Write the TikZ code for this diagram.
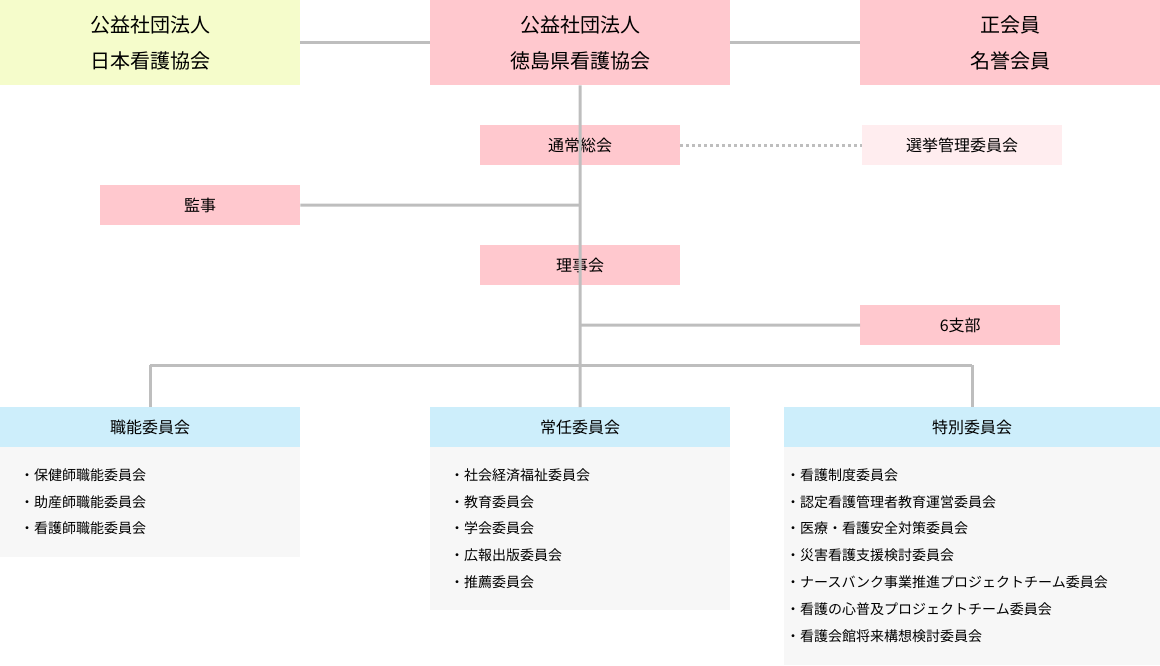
\documentclass[tikz,border=0pt]{standalone}
\usepackage{fontspec}
\setmainfont{Noto Sans CJK JP}
\begin{document}
\begin{tikzpicture}[x=1pt,y=-1pt,
  pinkc/.style={fill={rgb,255:red,255;green,200;blue,206}},
  bx/.style={draw=none,inner sep=0pt,anchor=north west},
  ln/.style={draw={rgb,255:red,190;green,190;blue,190},line width=3pt},
  it/.style={anchor=west,font=\fontsize{14}{16}\selectfont,inner sep=0pt}]
\useasboundingbox (0,0) rectangle (1160,665);
\tikzset{mk/.code args={#1/#2/#3/#4}{}}
% top boxes
\node[bx,fill={rgb,255:red,245;green,252;blue,203},minimum width=300pt,minimum height=85pt,align=center,font=\fontsize{20}{36}\selectfont] (jna) at (0,0) {公益社団法人\\日本看護協会};
\node[bx,pinkc,minimum width=300pt,minimum height=85pt,align=center,font=\fontsize{20}{36}\selectfont] (tna) at (430,0) {公益社団法人\\徳島県看護協会};
\node[bx,pinkc,minimum width=300pt,minimum height=85pt,align=center,font=\fontsize{20}{36}\selectfont] (mem) at (860,0) {正会員\\名誉会員};
\draw[ln] (jna.east) -- (tna.west);
\draw[ln] (tna.east) -- (mem.west);
% middle
\tikzset{mid/.style={bx,minimum width=200pt,minimum height=40pt,font=\fontsize{16}{18}\selectfont}}
\node[mid,pinkc] (soukai) at (480,125) {通常総会};
\node[mid,fill={rgb,255:red,255;green,237;blue,239}] (senkyo) at (862,125) {選挙管理委員会};
\node[mid,pinkc] (kanji) at (100,185) {監事};
\node[mid,pinkc] (rijikai) at (480,245) {理事会};
\node[mid,pinkc] (shibu) at (860,305) {6支部};
\coordinate (k) at (580,205);
\coordinate (s) at (580,325);
\coordinate (h) at (580,365);
\coordinate (hl) at (150,365);
\coordinate (hr) at (972,365);
\draw[ln] (tna.south) -- (h);
\draw[ln] (kanji.east) -- (k);
\draw[ln] (s) -- (shibu.west);
\draw[ln,dash pattern=on 3pt off 3pt,line width=3pt] (soukai.east) -- (senkyo.west);
% committees
\tikzset{hd/.style={bx,fill={rgb,255:red,205;green,238;blue,251},minimum height=40pt,font=\fontsize{16}{18}\selectfont},
  gb/.style={fill={rgb,255:red,247;green,247;blue,247}}}
\node[hd,minimum width=300pt] (c1) at (0,407) {職能委員会};
\node[hd,minimum width=300pt] (c2) at (430,407) {常任委員会};
\node[hd,minimum width=376pt] (c3) at (784,407) {特別委員会};
\draw[ln] (hl) -- (hr);
\draw[ln] (hl) -- (c1.north -| hl);
\draw[ln] (h) -- (c2.north);
\draw[ln] (hr) -- (c3.north -| hr);
\fill[gb] (0,447) rectangle (300,557);
\fill[gb] (430,447) rectangle (730,610);
\fill[gb] (784,447) rectangle (1160,665);
\foreach \t [count=\i] in {保健師職能委員会,助産師職能委員会,看護師職能委員会}
  \node[it] (a\i) at (20,{475+26.8*(\i-1)}) {・\t};
\foreach \t [count=\i] in {社会経済福祉委員会,教育委員会,学会委員会,広報出版委員会,推薦委員会}
  \node[it] (b\i) at (450,{475+26.8*(\i-1)}) {・\t};
\foreach \t [count=\i] in {看護制度委員会,認定看護管理者教育運営委員会,医療・看護安全対策委員会,災害看護支援検討委員会,ナースバンク事業推進プロジェクトチーム委員会,看護の心普及プロジェクトチーム委員会,看護会館将来構想検討委員会}
  \node[it] (d\i) at (786,{475+26.8*(\i-1)}) {・\t};
\end{tikzpicture}
\end{document}
